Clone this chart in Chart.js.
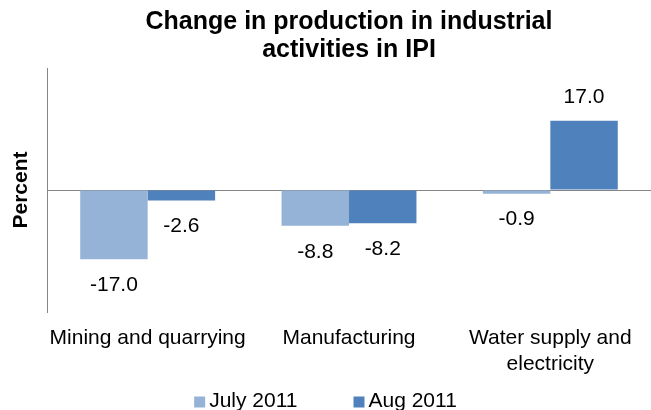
<!DOCTYPE html>
<html>
<head>
<meta charset="utf-8">
<script src="https://cdn.jsdelivr.net/npm/chart.js@4/dist/chart.umd.min.js"></script>
<style>
html,body{margin:0;padding:0;background:#fff;}
#wrap{width:651px;height:410px;position:relative;}
</style>
</head>
<body>
<div id="wrap"><canvas id="c"></canvas></div>
<script>
const categories = ["Mining and quarrying", "Manufacturing", ["Water supply and", "electricity"]];
const july2011 = [-17.0, -8.8, -0.9];
const aug2011 = [-2.6, -8.2, 17.0];
const seriesNames = ["July 2011", "Aug 2011"];
const titleLines = ["Change in production in industrial", "activities in IPI"];
const yMin = -30, yMax = 30;

const FONT = "'Liberation Sans', Arial, sans-serif";

const labelPlugin = {
  id: 'valueLabels',
  afterDatasetsDraw(chart) {
    const ctx = chart.ctx;
    ctx.save();
    ctx.font = "21px " + FONT;
    ctx.fillStyle = "#000";
    ctx.textAlign = "center";
    ctx.textBaseline = "middle";
    chart.data.datasets.forEach((ds, i) => {
      const meta = chart.getDatasetMeta(i);
      meta.data.forEach((bar, j) => {
        const v = ds.data[j];
        const y = v >= 0 ? bar.y - 24 : bar.y + 26;
        ctx.fillText(v.toFixed(1), bar.x, y);
      });
    });
    ctx.restore();
  }
};

const titlePlugin = {
  id: 'centeredTitle',
  afterDraw(chart) {
    const ctx = chart.ctx;
    const ca = chart.chartArea;
    ctx.save();
    ctx.font = "bold 25px " + FONT;
    ctx.fillStyle = "#000";
    ctx.textAlign = "center";
    ctx.textBaseline = "middle";
    const cx = (ca.left + ca.right) / 2;
    titleLines.forEach((t, i) => ctx.fillText(t, cx, 22 + i * 28));
    ctx.restore();
  }
};

const legendPlugin = {
  id: 'customLegend',
  afterDraw(chart) {
    const ctx = chart.ctx;
    ctx.save();
    ctx.font = "21px " + FONT;
    ctx.textBaseline = "middle";
    ctx.textAlign = "left";
    const box = 11, gapBoxText = 4, gapItems = 56;
    const items = chart.data.datasets.map(ds => ({ text: ds.label, color: ds.backgroundColor, w: box + gapBoxText + ctx.measureText(ds.label).width }));
    const total = items.reduce((s, it) => s + it.w, 0) + gapItems * (items.length - 1);
    let x = chart.width / 2 - total / 2;
    const cy = 401;
    items.forEach(it => {
      ctx.fillStyle = it.color;
      ctx.fillRect(x, cy - box / 2 + 1, box, box);
      ctx.fillStyle = "#000";
      ctx.fillText(it.text, x + box + gapBoxText, cy);
      x += it.w + gapItems;
    });
    ctx.restore();
  }
};

new Chart(document.getElementById('c'), {
  type: 'bar',
  data: {
    labels: categories,
    datasets: [
      { label: seriesNames[0], data: july2011, backgroundColor: '#95B3D7', categoryPercentage: 0.67, barPercentage: 1.0 },
      { label: seriesNames[1], data: aug2011, backgroundColor: '#4F81BD', categoryPercentage: 0.67, barPercentage: 1.0 }
    ]
  },
  options: {
    responsive: true,
    maintainAspectRatio: false,
    animation: false,
    layout: { padding: { top: 68, right: 0, left: 0, bottom: 34 } },
    plugins: {
      title: { display: false },
      legend: { display: false },
      tooltip: { enabled: false }
    },
    scales: {
      x: {
        afterFit(scale) { scale.height = 64; },
        grid: { display: false, drawTicks: false },
        border: { display: false },
        ticks: {
          font: { family: FONT, size: 21, lineHeight: 1.2 },
          color: '#000',
          padding: 14,
          maxRotation: 0,
          autoSkip: false
        }
      },
      y: {
        min: yMin, max: yMax,
        afterFit(scale) { scale.width = 47; },
        ticks: { display: false, stepSize: 10 },
        grid: {
          drawTicks: false,
          color: (c) => (c.tick && c.tick.value === 0) ? '#868686' : 'rgba(0,0,0,0)',
          lineWidth: 1
        },
        border: { display: true, color: '#868686' },
        title: {
          display: true,
          text: 'Percent',
          font: { family: FONT, size: 21, weight: 'bold', lineHeight: 1.2 },
          color: '#000',
          padding: { top: 9, bottom: 0 }
        }
      }
    }
  },
  plugins: [labelPlugin, titlePlugin, legendPlugin]
});
</script>
</body>
</html>
